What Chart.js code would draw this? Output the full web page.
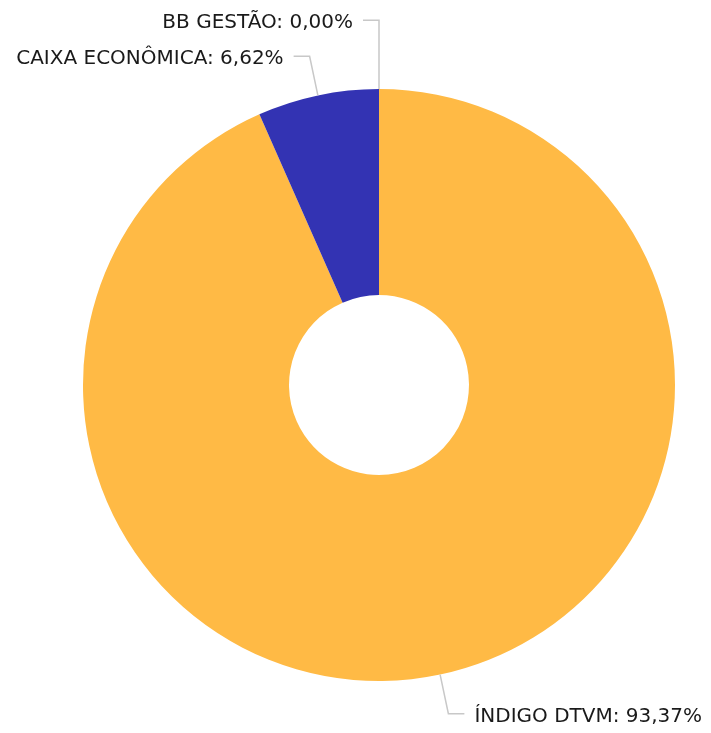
<!DOCTYPE html>
<html>
<head>
<meta charset="utf-8">
<script src="https://cdn.jsdelivr.net/npm/chart.js@4.4.1/dist/chart.umd.min.js"></script>
<style>
  html, body { margin: 0; padding: 0; background: #fff; }
  #wrap { width: 711px; height: 733px; }
</style>
</head>
<body>
<div id="wrap"><canvas id="grafico"></canvas></div>
<script>
// Dados
const instituicoes = ["ÍNDIGO DTVM", "CAIXA ECONÔMICA", "BB GESTÃO"];
const percentuais = [93.37, 6.62, 0.00];
const cores = ["#FFBA45", "#3333B3", "#8FBC3F"];

// rótulos com linha de chamada
const rotulosPlugin = {
    id: "rotulos",
    afterDatasetsDraw(chart) {
        const ctx = chart.ctx;
        const meta = chart.getDatasetMeta(0);
        ctx.save();
        ctx.font = "20px 'DejaVu Sans'";
        ctx.strokeStyle = "#c8c8c8";
        ctx.lineWidth = 1.5;
        ctx.fillStyle = "#1a1a1a";
        ctx.textBaseline = "middle";
        const posicoes = [];
        meta.data.forEach((arc, i) => {
            const p = arc.getProps(["x", "y", "startAngle", "endAngle", "outerRadius"], true);
            const meio = (p.startAngle + p.endAngle) / 2;
            const x0 = p.x + Math.cos(meio) * p.outerRadius;
            const y0 = p.y + Math.sin(meio) * p.outerRadius;
            const r1 = p.outerRadius + 40;
            const x1 = p.x + Math.cos(meio) * r1;
            const y1 = p.y + Math.sin(meio) * r1;
            posicoes.push({ i, x0, y0, x1, y1, direita: Math.cos(meio) > 0.0001 });
        });
        // afasta rótulos do lado esquerdo que se sobrepõem
        const esquerda = posicoes.filter(q => !q.direita).sort((a, b) => b.y1 - a.y1);
        for (let k = 1; k < esquerda.length; k++) {
            if (esquerda[k - 1].y1 - esquerda[k].y1 < 36) {
                esquerda[k].y1 = esquerda[k - 1].y1 - 36;
                esquerda[k].x1 = esquerda[k].x0;
            }
        }
        posicoes.forEach(q => {
            const dir = q.direita ? 1 : -1;
            const x2 = q.x1 + dir * 16;
            ctx.beginPath();
            ctx.moveTo(q.x0, q.y0);
            ctx.lineTo(q.x1, q.y1);
            ctx.lineTo(x2, q.y1);
            ctx.stroke();
            const texto = instituicoes[q.i] + ": " + percentuais[q.i].toFixed(2).replace(".", ",") + "%";
            ctx.textAlign = q.direita ? "left" : "right";
            ctx.fillText(texto, x2 + dir * 10, q.y1 + 3);
        });
        ctx.restore();
    }
};

const ctx = document.getElementById("grafico").getContext("2d");
new Chart(ctx, {
    type: "doughnut",
    data: {
        labels: instituicoes,
        datasets: [{
            data: percentuais,
            backgroundColor: cores,
            borderWidth: 0
        }]
    },
    options: {
        responsive: true,
        maintainAspectRatio: false,
        animation: false,
        cutout: "30.4%",
        layout: { padding: { left: 83, right: 36, top: 89, bottom: 52 } },
        plugins: {
            legend: { display: false },
            tooltip: { enabled: false }
        }
    },
    plugins: [rotulosPlugin]
});
</script>
</body>
</html>
